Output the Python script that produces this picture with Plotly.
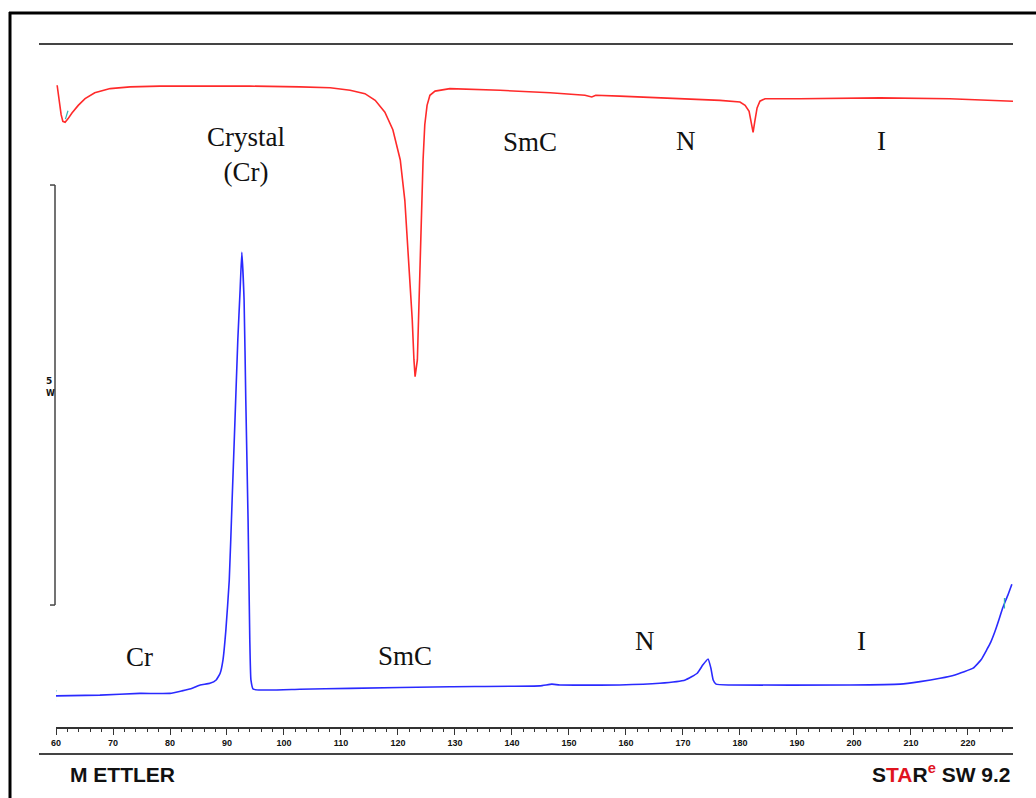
import numpy as np
import plotly.graph_objects as go

# DSC thermogram: heat flow (mW) vs temperature (°C)
# Upper curve (red)
red_T = [60.2, 60.5, 60.9, 61.2, 61.6, 62.1, 62.8, 63.9, 65.1, 66.8, 69.5, 73.0,
         78.2, 85.3, 94.0, 102.8, 108.1, 111.6, 114.2, 116.0, 117.7, 119.1, 120.4,
         121.2, 121.9, 122.5, 122.8, 123.0, 123.4, 123.7, 124.0, 124.4, 124.7,
         125.1, 125.6, 126.5, 129.1, 137.9, 146.7, 152.8, 154.0, 154.7, 158.9,
         169.5, 176.5, 180.0, 180.9, 181.6, 181.9, 182.3, 182.6, 183.0, 183.5,
         184.4, 190.5, 204.6, 216.8, 227.9]
red_mW = [7.64, 7.46, 7.29, 7.21, 7.20, 7.24, 7.31, 7.40, 7.48, 7.55, 7.60, 7.62,
          7.63, 7.63, 7.63, 7.62, 7.61, 7.58, 7.54, 7.46, 7.32, 7.11, 6.75,
          6.27, 5.56, 4.85, 4.37, 4.17, 4.37, 5.08, 6.04, 6.75, 7.17,
          7.40, 7.52, 7.57, 7.60, 7.58, 7.55, 7.52, 7.50, 7.52, 7.51,
          7.48, 7.46, 7.44, 7.40, 7.33, 7.21, 7.08, 7.21, 7.37, 7.45,
          7.48, 7.48, 7.49, 7.48, 7.45]

# Lower curve (blue)
blue_T = [59.8, 67.7, 74.7, 80.0, 82.1, 83.9, 85.3, 87.0, 88.1, 88.8, 89.3, 89.8,
          90.4, 90.9, 91.4, 91.9, 92.3, 92.6, 93.0, 93.3, 93.7, 94.0, 94.2, 94.6,
          102.8, 111.6, 129.1, 144.9, 147.0, 148.4, 158.9, 165.9, 170.4, 172.5,
          173.5, 174.4, 174.9, 175.3, 175.8, 178.2, 199.3, 208.1, 211.6, 215.1,
          217.7, 220.9, 222.3, 223.3, 224.0, 224.7, 225.4, 226.1, 227.0, 227.7]
blue_mW = [0.37, 0.38, 0.40, 0.40, 0.43, 0.46, 0.50, 0.52, 0.56, 0.64, 0.80, 1.15,
           1.75, 2.70, 3.65, 4.61, 5.20, 5.65, 5.08, 3.89, 2.46, 1.04, 0.56, 0.45,
           0.45, 0.46, 0.48, 0.49, 0.51, 0.50, 0.50, 0.52, 0.56, 0.64,
           0.74, 0.81, 0.70, 0.56, 0.51, 0.50, 0.50, 0.51, 0.54, 0.58,
           0.62, 0.70, 0.80, 0.92, 1.01, 1.13, 1.27, 1.42, 1.57, 1.70]

# Integration limit markers (temperatures on each curve)
red_limits = [61.8]
blue_limits = [59.9, 226.4]

# Phase labels: (text, T, mW)
upper_labels = [("Crystal<br>(Cr)", 93.3, 6.82), ("SmC", 143.2, 6.96),
                ("N", 170.5, 6.98), ("I", 204.9, 6.98)]
lower_labels = [("Cr", 74.7, 0.83), ("SmC", 121.2, 0.85),
                ("N", 163.4, 1.02), ("I", 201.4, 1.02)]

tick_vals = list(range(60, 230, 10))
tick_text = [str(v) for v in tick_vals]

scale_bar_mW = 5.0
scale_bar_bottom = 1.452

X_MIN, X_MAX = 60.0, 227.9
Y_MIN, Y_MAX = 0.0, 8.131

W, H = 1036, 798
ML, MR, MT, MB = 56, 23, 44, 71
PW, PH = W - ML - MR, H - MT - MB


def px_x(px):
    return (px - ML) / PW


def px_y(py):
    return (H - MB - py) / PH


fig = go.Figure()
fig.add_trace(go.Scatter(x=red_T, y=red_mW, mode="lines",
                         line=dict(color="#ff2a2a", width=1.6), hoverinfo="skip"))
fig.add_trace(go.Scatter(x=blue_T, y=blue_mW, mode="lines", line_shape="spline",
                         line=dict(color="#2a2aff", width=1.6, smoothing=0.4), hoverinfo="skip"))

# short teal ticks at the integration limits
for T in red_limits:
    yv = float(np.interp(T, red_T, red_mW))
    fig.add_trace(go.Scatter(x=[T - 0.15, T, T + 0.3], y=[yv + 0.02, yv + 0.05, yv + 0.12],
                             mode="lines", line=dict(color="#33b5b5", width=1.2), hoverinfo="skip"))
for T in blue_limits:
    yv = float(np.interp(T, blue_T, blue_mW))
    fig.add_trace(go.Scatter(x=[T, T, T + 0.2], y=[yv - 0.06, yv + 0.06, yv + 0.06],
                             mode="lines", line=dict(color="#33b5b5", width=1.2), hoverinfo="skip"))

annotations = []
for text, T, v in upper_labels + lower_labels:
    annotations.append(dict(x=T, y=v, xref="x", yref="y", text=text, showarrow=False,
                            font=dict(family="Liberation Serif", size=27, color="#111"),
                            align="center"))

# scale bar label
annotations.append(dict(x=px_x(44), y=px_y(381), xref="paper", yref="paper", text="5",
                        yanchor="middle", showarrow=False,
                        font=dict(family="DejaVu Sans", size=9, color="#111", weight="bold")))
annotations.append(dict(x=px_x(44), y=px_y(393), xref="paper", yref="paper", text="W",
                        yanchor="middle", showarrow=False,
                        font=dict(family="DejaVu Sans", size=8, color="#111", weight="bold")))

# footer
annotations.append(dict(x=px_x(68), y=px_y(774), xref="paper", yref="paper",
                        xanchor="left", yanchor="middle",
                        text="M ETTLER", showarrow=False,
                        font=dict(family="Liberation Sans", size=21, color="#111", weight="bold")))
annotations.append(dict(x=1.0, y=px_y(773), xref="paper", yref="paper",
                        xanchor="right", yanchor="middle",
                        text="S<span style='color:#e0141e'>TA</span>R<sup><span style='color:#e0141e'>e</span></sup> SW 9.2",
                        showarrow=False,
                        font=dict(family="Liberation Sans", size=21, color="#111", weight="bold")))

sb_x = px_x(55)
sb_y0 = scale_bar_bottom / Y_MAX
sb_y1 = (scale_bar_bottom + scale_bar_mW) / Y_MAX
shapes = [
    # outer frame
    dict(type="line", xref="paper", yref="paper", x0=px_x(10), x1=px_x(10), y0=px_y(12), y1=px_y(805),
         line=dict(color="black", width=3)),
    dict(type="line", xref="paper", yref="paper", x0=px_x(9), x1=px_x(1045), y0=px_y(13), y1=px_y(13),
         line=dict(color="black", width=3)),
    # header and footer rules
    dict(type="line", xref="paper", yref="paper", x0=px_x(39), x1=px_x(1013), y0=px_y(44), y1=px_y(44),
         line=dict(color="#444", width=2)),
    dict(type="line", xref="paper", yref="paper", x0=px_x(39), x1=px_x(1013), y0=px_y(754), y1=px_y(754),
         line=dict(color="#444", width=2)),
    # 5 mW scale bar
    dict(type="line", xref="paper", yref="paper", x0=sb_x, x1=sb_x, y0=sb_y0, y1=sb_y1,
         line=dict(color="#444", width=1.5)),
    dict(type="line", xref="paper", yref="paper", x0=px_x(50), x1=sb_x, y0=sb_y0, y1=sb_y0,
         line=dict(color="#444", width=1.5)),
    dict(type="line", xref="paper", yref="paper", x0=px_x(50), x1=sb_x, y0=sb_y1, y1=sb_y1,
         line=dict(color="#444", width=1.5)),
]

fig.update_layout(
    width=W, height=H,
    margin=dict(l=ML, r=MR, t=MT, b=MB),
    paper_bgcolor="white", plot_bgcolor="white",
    showlegend=False,
    annotations=annotations,
    shapes=shapes,
    xaxis=dict(range=[X_MIN, X_MAX], showgrid=False, zeroline=False,
               showline=True, linecolor="#333", linewidth=1.5,
               ticks="outside", ticklen=6, tickcolor="#333", tickwidth=1.2,
               tickvals=tick_vals, ticktext=tick_text,
               tickfont=dict(family="Liberation Sans", size=9, color="#111", weight="bold"),
               minor=dict(dtick=2, ticks="outside", ticklen=3, tickcolor="#333", tickwidth=1)),
    yaxis=dict(range=[Y_MIN, Y_MAX], visible=False),
)

fig.write_html("out.html")
